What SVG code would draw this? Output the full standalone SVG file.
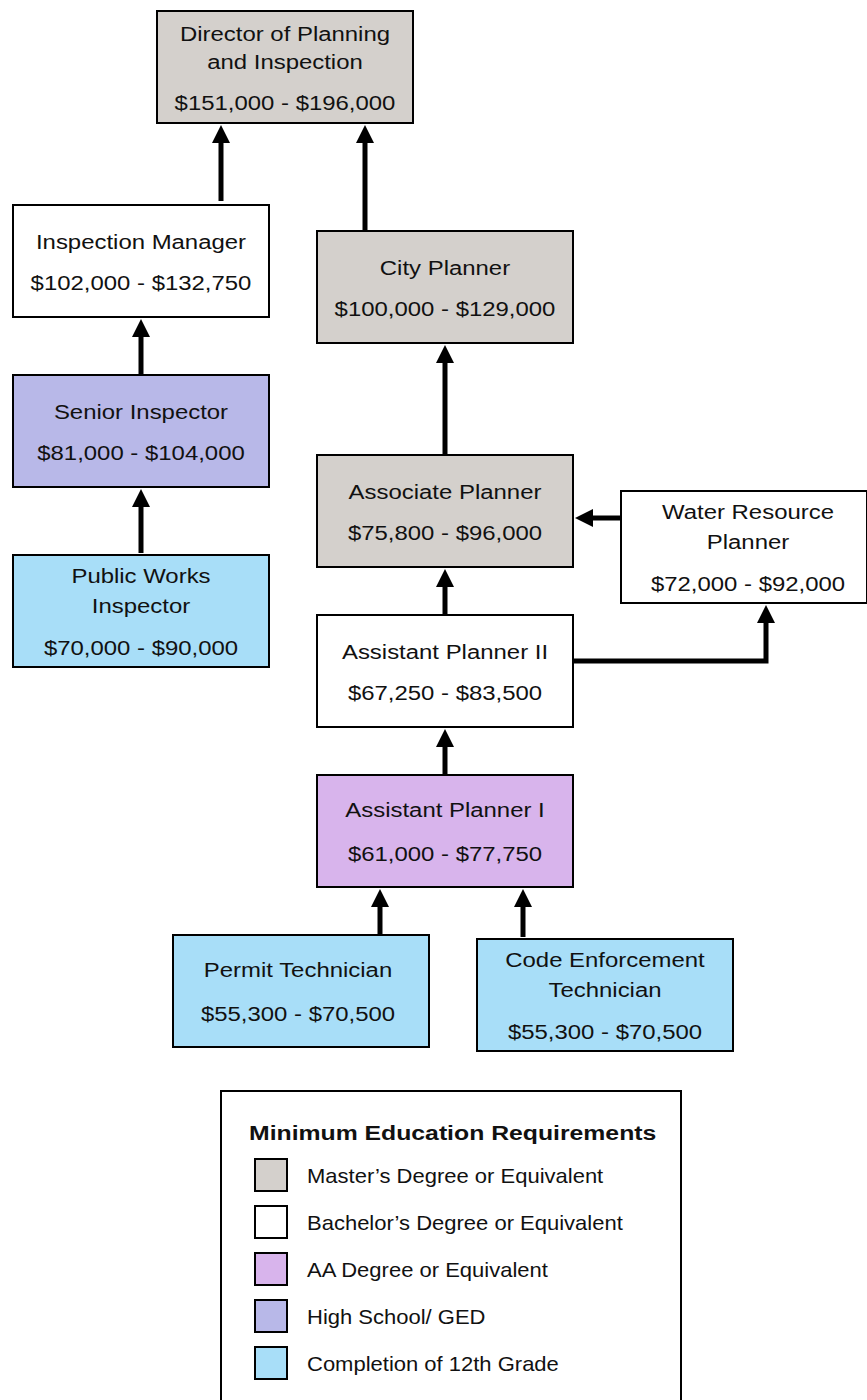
<svg xmlns="http://www.w3.org/2000/svg" width="867" height="1400" viewBox="0 0 867 1400">
<style>
.box{stroke:#000;stroke-width:2}
.m{fill:#d4d0cc}.b{fill:#fff}.aa{fill:#d8b4ec}.hs{fill:#b8b8e8}.g12{fill:#a8def8}
text{font-family:"Liberation Sans",Arial,sans-serif;fill:#111}
.t{font-size:21px;text-anchor:middle}
.lt{font-size:21px;font-weight:bold}
.li{font-size:20px}
.c{stroke:#000;stroke-width:5;fill:none}
</style>
<defs>
<marker id="ah" markerUnits="userSpaceOnUse" markerWidth="18" markerHeight="18" refX="8" refY="9" orient="auto">
<path d="M0,0 L18,9 L0,18 Z" fill="#000"/>
</marker>
</defs>
<g id="connectors">
<path class="c" d="M221,201 V135" marker-end="url(#ah)"/>
<path class="c" d="M365,233 V135" marker-end="url(#ah)"/>
<path class="c" d="M141,377 V329" marker-end="url(#ah)"/>
<path class="c" d="M141,553 V499" marker-end="url(#ah)"/>
<path class="c" d="M445,455 V355" marker-end="url(#ah)"/>
<path class="c" d="M445,615 V579" marker-end="url(#ah)"/>
<path class="c" d="M623,518 H585" marker-end="url(#ah)"/>
<path class="c" d="M573,661 H766 V615" marker-end="url(#ah)"/>
<path class="c" d="M445,775 V739" marker-end="url(#ah)"/>
<path class="c" d="M380,935 V899" marker-end="url(#ah)"/>
<path class="c" d="M523,937 V899" marker-end="url(#ah)"/>
</g>
<g id="director">
<rect class="box m" x="157" y="11" width="256" height="112"/>
<text class="t" transform="translate(285,41) scale(1.14,1)">Director of Planning</text>
<text class="t" transform="translate(285,69) scale(1.14,1)">and Inspection</text>
<text class="t" transform="translate(285,110) scale(1.14,1)">$151,000 - $196,000</text>
</g>
<g id="inspection-manager">
<rect class="box b" x="13" y="205" width="256" height="112"/>
<text class="t" transform="translate(141,249) scale(1.14,1)">Inspection Manager</text>
<text class="t" transform="translate(141,290) scale(1.14,1)">$102,000 - $132,750</text>
</g>
<g id="city-planner">
<rect class="box m" x="317" y="231" width="256" height="112"/>
<text class="t" transform="translate(445,275) scale(1.14,1)">City Planner</text>
<text class="t" transform="translate(445,316) scale(1.14,1)">$100,000 - $129,000</text>
</g>
<g id="senior-inspector">
<rect class="box hs" x="13" y="375" width="256" height="112"/>
<text class="t" transform="translate(141,419) scale(1.14,1)">Senior Inspector</text>
<text class="t" transform="translate(141,460) scale(1.14,1)">$81,000 - $104,000</text>
</g>
<g id="public-works-inspector">
<rect class="box g12" x="13" y="555" width="256" height="112"/>
<text class="t" transform="translate(141,583) scale(1.14,1)">Public Works</text>
<text class="t" transform="translate(141,613) scale(1.14,1)">Inspector</text>
<text class="t" transform="translate(141,655) scale(1.14,1)">$70,000 - $90,000</text>
</g>
<g id="associate-planner">
<rect class="box m" x="317" y="455" width="256" height="112"/>
<text class="t" transform="translate(445,499) scale(1.14,1)">Associate Planner</text>
<text class="t" transform="translate(445,540) scale(1.14,1)">$75,800 - $96,000</text>
</g>
<g id="water-resource-planner">
<rect class="box b" x="621" y="491" width="246" height="112"/>
<text class="t" transform="translate(748,519) scale(1.14,1)">Water Resource</text>
<text class="t" transform="translate(748,549) scale(1.14,1)">Planner</text>
<text class="t" transform="translate(748,591) scale(1.14,1)">$72,000 - $92,000</text>
</g>
<g id="assistant-planner-ii">
<rect class="box b" x="317" y="615" width="256" height="112"/>
<text class="t" transform="translate(445,659) scale(1.14,1)">Assistant Planner II</text>
<text class="t" transform="translate(445,700) scale(1.14,1)">$67,250 - $83,500</text>
</g>
<g id="assistant-planner-i">
<rect class="box aa" x="317" y="775" width="256" height="112"/>
<text class="t" transform="translate(445,817) scale(1.14,1)">Assistant Planner I</text>
<text class="t" transform="translate(445,861) scale(1.14,1)">$61,000 - $77,750</text>
</g>
<g id="permit-technician">
<rect class="box g12" x="173" y="935" width="256" height="112"/>
<text class="t" transform="translate(298,977) scale(1.14,1)">Permit Technician</text>
<text class="t" transform="translate(298,1021) scale(1.14,1)">$55,300 - $70,500</text>
</g>
<g id="code-enforcement-technician">
<rect class="box g12" x="477" y="939" width="256" height="112"/>
<text class="t" transform="translate(605,967) scale(1.14,1)">Code Enforcement</text>
<text class="t" transform="translate(605,997) scale(1.14,1)">Technician</text>
<text class="t" transform="translate(605,1039) scale(1.14,1)">$55,300 - $70,500</text>
</g>
<g id="legend">
<rect x="221" y="1091" width="460" height="320" fill="#fff" stroke="#000" stroke-width="2"/>
<text class="lt" transform="translate(249,1140) scale(1.18,1)">Minimum Education Requirements</text>
<rect class="box m" x="255" y="1159" width="32" height="32"/>
<text class="li" transform="translate(307,1183) scale(1.1,1)">Master’s Degree or Equivalent</text>
<rect class="box b" x="255" y="1206" width="32" height="32"/>
<text class="li" transform="translate(307,1230) scale(1.1,1)">Bachelor’s Degree or Equivalent</text>
<rect class="box aa" x="255" y="1253" width="32" height="32"/>
<text class="li" transform="translate(307,1277) scale(1.1,1)">AA Degree or Equivalent</text>
<rect class="box hs" x="255" y="1300" width="32" height="32"/>
<text class="li" transform="translate(307,1324) scale(1.1,1)">High School/ GED</text>
<rect class="box g12" x="255" y="1347" width="32" height="32"/>
<text class="li" transform="translate(307,1371) scale(1.1,1)">Completion of 12th Grade</text>
</g>
</svg>
